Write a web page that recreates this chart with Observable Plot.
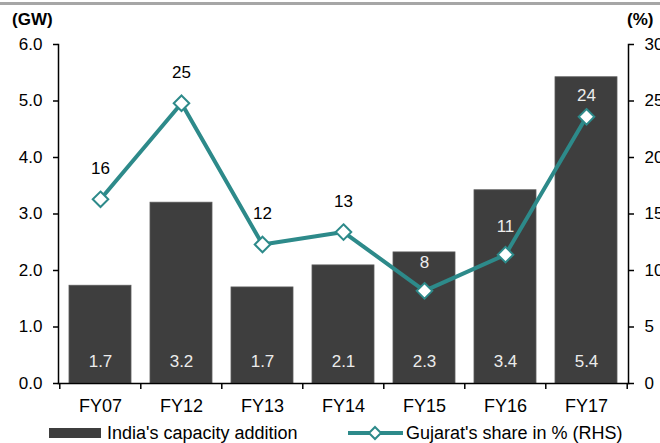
<!DOCTYPE html>
<html><head><meta charset="utf-8">
<script src="https://cdn.jsdelivr.net/npm/d3@7"></script>
<script src="https://cdn.jsdelivr.net/npm/@observablehq/plot@0.6"></script>
<style>
body{margin:0;font-family:"Liberation Sans",Arial,sans-serif;background:#fff;width:660px;height:443px;overflow:hidden;position:relative}
#topline{position:absolute;left:0;top:2px;width:660px;height:3px;background:#a6a6a6}
#chart{position:absolute;left:0;top:0}
.unit{position:absolute;font-weight:bold;font-size:17px;color:#000}
#legend{position:absolute;left:0;top:423px;width:660px;height:20px;font-size:18px;color:#000}
.lg{position:absolute;top:0;display:flex;align-items:center;height:20px}
</style></head><body>
<div id="chart"></div>
<div id="topline"></div>
<div class="unit" style="left:12px;top:10px">(GW)</div>
<div class="unit" style="left:627px;top:10px">(%)</div>
<div id="legend">
  <div class="lg" style="left:49px"><svg width="52" height="10" style="margin-right:6px"><rect x="0" y="0" width="52" height="10" fill="#3e3e3e"/></svg><span>India's capacity addition</span></div>
  <div class="lg" style="left:347px"><svg width="57" height="16" style="margin-right:2px"><line x1="1" y1="8" x2="56" y2="8" stroke="#2d8a8a" stroke-width="4"/><path d="M28,2 L34,8 L28,14 L22,8 Z" fill="#fff" stroke="#2d8a8a" stroke-width="2"/></svg><span>Gujarat's share in % (RHS)</span></div>
</div>
<script>
const categories = ["FY07","FY12","FY13","FY14","FY15","FY16","FY17"];
const capacityGW = [1.73,3.2,1.7,2.09,2.32,3.42,5.42];
const capacityLabels = ["1.7","3.2","1.7","2.1","2.3","3.4","5.4"];
const gujaratShare = [16.3,24.8,12.3,13.4,8.2,11.4,23.6];
const shareLabels = ["16","25","12","13","8","11","24"];
const leftTicks = [0,1,2,3,4,5,6];
const rightTicks = [0,5,10,15,20,25,30];

const teal = "#2d8a8a";
const barColor = "#3e3e3e";
const data = categories.map((c,i)=>({
  cat:c, gw:capacityGW[i], gwLabel:capacityLabels[i],
  share:gujaratShare[i], s:gujaratShare[i]/5, shareLabel:shareLabels[i]
}));
const onBar = d => d.s < d.gw;   // label drawn over the dark bar
const step = 570/(7-0.24+0.24);

const chart = Plot.plot({
  width:660, height:443,
  marginLeft:58, marginRight:32, marginTop:44, marginBottom:60,
  style:{fontFamily:"Liberation Sans, Arial, sans-serif", fontSize:"17px", color:"#000", background:"transparent", overflow:"visible"},
  x:{type:"band", domain:categories, paddingInner:0.24, paddingOuter:0.12},
  y:{domain:[0,6]},
  marks:[
    Plot.barY(data,{x:"cat", y:"gw", fill:barColor, stroke:"#5a5a5a", strokeWidth:0.8}),
    Plot.text(data,{x:"cat", y:0, text:"gwLabel", dy:-22, fill:"#ececec", fontSize:17}),
    Plot.line(data,{x:"cat", y:"s", stroke:teal, strokeWidth:4}),
    Plot.dot(data,{x:"cat", y:"s", symbol:"diamond2", r:7, fill:"white", stroke:teal, strokeWidth:2}),
    Plot.text(data.filter(d=>!onBar(d)),{x:"cat", y:"s", text:"shareLabel", dy:-31, fill:"black", fontSize:17}),
    Plot.text(data.filter(d=>onBar(d) && d.cat!=="FY17"),{x:"cat", y:"s", text:"shareLabel", dy:-28, fill:"#ececec", fontSize:17}),
    Plot.text(data.filter(d=>d.cat==="FY17"),{x:"cat", y:"s", text:"shareLabel", dy:-21, fill:"#ececec", fontSize:17}),
    Plot.axisY({anchor:"left", ticks:leftTicks, tickFormat:d=>d.toFixed(1), tickSize:5, tickPadding:11, label:null, fontSize:17, strokeWidth:1.5}),
    Plot.axisY({anchor:"right", ticks:rightTicks.map(t=>t/5), tickFormat:d=>String(Math.round(d*5)), tickSize:5, tickPadding:11, label:null, fontSize:17, strokeWidth:1.5}),
    Plot.frame({anchor:"left", strokeWidth:1.5}),
    Plot.frame({anchor:"right", strokeWidth:1.5}),
    Plot.frame({anchor:"bottom", strokeWidth:1.5}),
    Plot.axisX({ticks:categories, tickSize:6, dx:-step/2, text:null, label:null, strokeWidth:1.5}),
    Plot.axisX({ticks:categories.slice(-1), tickSize:6, dx:step/2, text:null, label:null, strokeWidth:1.5}),
    Plot.axisX({tickSize:0, tickPadding:16, label:null, fontSize:18})
  ]
});
document.getElementById("chart").appendChild(chart);
</script>
</body></html>
